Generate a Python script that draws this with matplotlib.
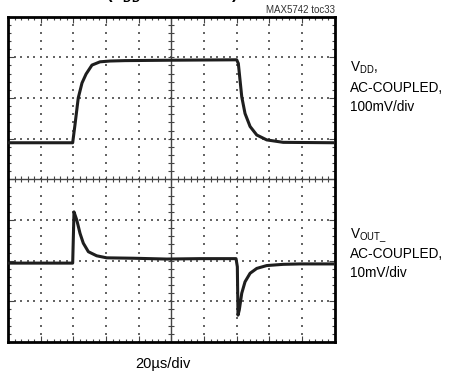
import numpy as np
import matplotlib
matplotlib.use('Agg')
import matplotlib.pyplot as plt
from matplotlib.ticker import MultipleLocator

# time in us (20us/div), amplitude in screen divisions
vdd_t = [0, 39.6, 41.0, 43.0, 45.3, 47.8, 51.4, 56.3, 62.4, 71.6, 100, 140.0,
         141.0, 143.1, 145.1, 148.2, 152.3, 158.4, 168.5, 200]
vdd_v = [0.90, 0.90, 1.34, 2.00, 2.37, 2.59, 2.81, 2.89, 2.91, 2.92, 2.93, 2.94,
         2.85, 2.03, 1.62, 1.30, 1.09, 0.97, 0.91, 0.90]

vout_t = [0, 39.6, 40.4, 42.1, 44.1, 46.1, 49.2, 54.3, 60.4, 76.7, 97.2, 117.5, 139.6,
          140.4, 140.8, 141.6, 143.1, 145.1, 148.2, 152.3, 158.4, 168.5, 178.8, 200]
vout_v = [-2.06, -2.06, -0.80, -1.00, -1.33, -1.57, -1.78, -1.88, -1.93, -1.94, -1.96, -1.95, -1.95,
          -2.15, -3.34, -3.21, -2.80, -2.52, -2.31, -2.19, -2.12, -2.09, -2.08, -2.08]

vdd_label = ['V$_{\\mathregular{DD}}$,', 'AC-COUPLED,', '100mV/div']
vout_label = ['V$_{\\mathregular{OUT\\_}}$', 'AC-COUPLED,', '10mV/div']
x_label = '20\u00b5s/div'
chart_id = 'MAX5742 toc33'

plt.rcParams['font.family'] = ['Liberation Sans', 'DejaVu Sans']
plt.rcParams['mathtext.fontset'] = 'custom'
plt.rcParams['mathtext.rm'] = 'Liberation Sans'

fig = plt.figure(figsize=(4.49, 3.76), dpi=100)
ax = fig.add_axes([8 / 449, 34 / 376, 326.7 / 449, 325.3 / 376])
ax.set_xlim(0, 200)
ax.set_ylim(-4, 4)

# dotted graticule
minor_x = np.arange(0, 200.01, 4)
minor_y = np.arange(-4, 4.01, 0.2)
for k in range(1, 10):
    if k == 5:
        continue
    ax.scatter(np.full(len(minor_y), k * 20), minor_y, s=1.2, marker='s', color='#666666', lw=0, zorder=1)
for j in range(-3, 4):
    if j == 0:
        continue
    ax.scatter(minor_x, np.full(len(minor_x), j), s=1.2, marker='s', color='#666666', lw=0, zorder=1)

# center axes with small ticks
ax.axhline(0, color='#444444', lw=1.0, zorder=2)
ax.axvline(100, color='#444444', lw=1.0, zorder=2)
ax.scatter(minor_x, np.zeros(len(minor_x)), marker='|', s=14, color='#444444', lw=0.8, zorder=2)
ax.scatter(np.full(len(minor_y), 100), minor_y, marker='_', s=14, color='#444444', lw=0.8, zorder=2)

# traces
ax.plot(vdd_t, vdd_v, color='#1e1e1e', lw=2.2, solid_joinstyle='round', zorder=3)
ax.plot(vout_t, vout_v, color='#1e1e1e', lw=2.2, solid_joinstyle='round', zorder=3)

# frame
for s in ax.spines.values():
    s.set_linewidth(2.0)
    s.set_color('black')
ax.xaxis.set_major_locator(MultipleLocator(20))
ax.xaxis.set_minor_locator(MultipleLocator(4))
ax.yaxis.set_major_locator(MultipleLocator(1))
ax.yaxis.set_minor_locator(MultipleLocator(0.2))
ax.tick_params(which='both', direction='in', top=True, right=True,
               labelbottom=False, labelleft=False, color='#444444', width=0.8)
ax.tick_params(which='major', length=4)
ax.tick_params(which='minor', length=2.5)

# text (title is cut by the top edge, as in the reference)
fig.text(172 / 449, 1 + 1 / 376, '(V$_{\\mathregular{DD}}$ = 5V \u00b1 0.1V)', fontsize=12,
         fontweight='bold', ha='center', va='baseline')
fig.text(335 / 449, 1 - 13 / 376, chart_id, fontsize=7, color='#333333', ha='right', va='baseline')

for i, line in enumerate(vdd_label):
    fig.text(350 / 449, 1 - (72 + 19.5 * i) / 376, line, fontsize=9.8, ha='left', va='baseline')
for i, line in enumerate(vout_label):
    fig.text(350 / 449, 1 - (239 + 19 * i) / 376, line, fontsize=9.8, ha='left', va='baseline')
fig.text(163 / 449, 1 - 368 / 376, x_label, fontsize=10.5, ha='center', va='baseline')

fig.savefig('out.png', dpi=100)
